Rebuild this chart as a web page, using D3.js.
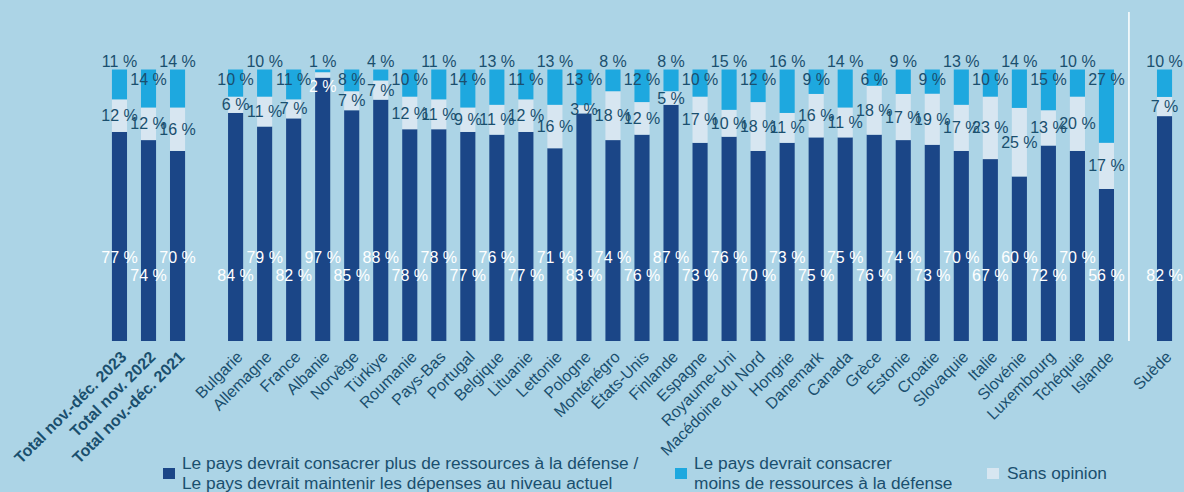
<!DOCTYPE html>
<html>
<head>
<meta charset="utf-8">
<script src="https://cdn.jsdelivr.net/npm/d3@7"></script>
<style>
  html, body { margin: 0; padding: 0; background: #acd4e6; }
  svg { display: block; font-family: "Liberation Sans", Arial, sans-serif; }
</style>
</head>
<body>
<div id="chart"></div>
<script>
var width = 1184,
    height = 492;

// categories (gap keys are the spaces between groups)
var categories = ["Total nov.-déc. 2023", "Total nov. 2022", "Total nov.-déc. 2021", "gap1",
  "Bulgarie", "Allemagne", "France", "Albanie", "Norvège", "Türkiye", "Roumanie", "Pays-Bas",
  "Portugal", "Belgique", "Lituanie", "Lettonie", "Pologne", "Monténégro", "États-Unis",
  "Finlande", "Espagne", "Royaume-Uni", "Macédoine du Nord", "Hongrie", "Danemark", "Canada",
  "Grèce", "Estonie", "Croatie", "Slovaquie", "Italie", "Slovénie", "Luxembourg", "Tchéquie",
  "Islande", "gap2", "Suède"];

// series values (null for the gaps)
var plusOuMaintenir = [77, 74, 70, null, 84, 79, 82, 97, 85, 88, 78, 78, 77, 76, 77, 71, 83, 74, 76,
  87, 73, 76, 70, 73, 75, 75, 76, 74, 73, 70, 67, 60, 72, 70, 56, null, 82];
var sansOpinion = [12, 12, 16, null, 6, 11, 7, 2, 7, 7, 12, 11, 9, 11, 12, 16, 3, 18, 12,
  5, 17, 10, 18, 11, 16, 11, 18, 17, 19, 17, 23, 25, 13, 20, 17, null, 7];
var moins = [11, 14, 14, null, 10, 10, 11, 1, 8, 4, 10, 11, 14, 13, 11, 13, 13, 8, 12,
  8, 10, 15, 12, 16, 9, 14, 6, 9, 9, 13, 10, 14, 15, 10, 27, null, 10];

var totals = ["Total nov.-déc. 2023", "Total nov. 2022", "Total nov.-déc. 2021"];
var keys = ["plus", "sans", "moins"];
var colors = { plus: "#1b4687", sans: "#d7e6f1", moins: "#1ea8df" };
var darkText = "#1a4f6e";

var legendItems = [
  { key: "plus", lines: ["Le pays devrait consacrer plus de ressources à la défense /",
                         "Le pays devrait maintenir les dépenses au niveau actuel"] },
  { key: "moins", lines: ["Le pays devrait consacrer", "moins de ressources à la défense"] },
  { key: "sans", lines: ["Sans opinion"] }
];

var data = categories.map(function(c, i) {
  return { name: c, gap: c.indexOf("gap") === 0,
    plus: plusOuMaintenir[i] || 0, sans: sansOpinion[i] || 0, moins: moins[i] || 0 };
});
// alternate label heights along real bars
var k = 0;
data.forEach(function(d) { if (!d.gap) { d.alt = k % 2; k++; } });

var svg = d3.select("#chart").append("svg")
  .attr("width", width)
  .attr("height", height);

var x = d3.scaleBand()
  .domain(categories)
  .range([98, 1186])
  .padding(0.48);

var y = d3.scaleLinear()
  .domain([0, 1])
  .range([341, 69.5]);

var bars = data.filter(function(d) { return !d.gap; });
var series = d3.stack()
  .keys(keys)
  .offset(d3.stackOffsetExpand)(bars);

// stacked bars
svg.append("g").selectAll("g")
  .data(series)
  .enter().append("g")
  .attr("fill", function(s) { return colors[s.key]; })
  .selectAll("rect")
  .data(function(s) { return s; })
  .enter().append("rect")
  .attr("x", function(d) { return x(d.data.name); })
  .attr("width", x.bandwidth())
  .attr("y", function(d) { return y(d[1]); })
  .attr("height", function(d) { return y(d[0]) - y(d[1]); });

// separator before Suède
var sepX = x("gap2") + 1;
svg.append("line")
  .attr("x1", sepX).attr("x2", sepX)
  .attr("y1", 12).attr("y2", 341)
  .attr("stroke", "#ffffff")
  .attr("stroke-width", 1.5);

var labels = svg.append("g")
  .style("font-size", "16px")
  .attr("text-anchor", "middle");

// bottom series labels (white)
labels.selectAll("text.plus")
  .data(series[0])
  .enter().append("text")
  .attr("x", function(d) { return x(d.data.name) + x.bandwidth() / 2; })
  .attr("y", function(d, i) {
    var last = i === bars.length - 1;
    return (d.data.alt || last) ? 275 : 257;
  })
  .attr("dy", "0.35em")
  .attr("fill", "#ffffff")
  .text(function(d) { return d.data.plus + " %"; });

// sans opinion labels, centred on the segment
labels.selectAll("text.sans")
  .data(series[1])
  .enter().append("text")
  .attr("x", function(d) { return x(d.data.name) + x.bandwidth() / 2; })
  .attr("y", function(d) {
    if (d.data.sans < 3) return y(d[0]) + 9;
    return (y(d[0]) + y(d[1])) / 2;
  })
  .attr("dy", "0.35em")
  .attr("fill", function(d) { return d.data.sans < 3 ? "#ffffff" : darkText; })
  .text(function(d) { return d.data.sans + " %"; });

// moins labels, at the top
labels.selectAll("text.moins")
  .data(series[2])
  .enter().append("text")
  .attr("x", function(d) { return x(d.data.name) + x.bandwidth() / 2; })
  .attr("y", function(d) { return d.data.alt ? y(1) + 9.5 : y(1) - 8; })
  .attr("dy", "0.35em")
  .attr("fill", darkText)
  .text(function(d) { return d.data.moins + " %"; });

// category labels, rotated
svg.append("g").selectAll("text")
  .data(bars)
  .enter().append("text")
  .attr("transform", function(d) {
    return "translate(" + (x(d.name) + x.bandwidth() / 2 + 4) + ",354) rotate(-45)";
  })
  .attr("text-anchor", "end")
  .attr("dy", "0.35em")
  .style("font-size", "16px")
  .style("font-weight", function(d) { return totals.indexOf(d.name) >= 0 ? "bold" : "normal"; })
  .attr("fill", darkText)
  .text(function(d) { return d.name; });

// legend
var legendX = [163, 675, 987];
var legend = svg.append("g").selectAll("g")
  .data(legendItems)
  .enter().append("g")
  .attr("transform", function(d, i) { return "translate(" + legendX[i] + ",468)"; });

legend.append("rect")
  .attr("width", 12)
  .attr("height", 11)
  .attr("fill", function(d) { return colors[d.key]; });

legend.append("text")
  .attr("x", function(d, i) { return i === 2 ? 20 : 19; })
  .attr("fill", darkText)
  .style("font-size", "17.3px")
  .selectAll("tspan")
  .data(function(d) { return d.lines.map(function(l) { return { l: l, n: d.lines.length }; }); })
  .enter().append("tspan")
  .attr("x", function() { return d3.select(this.parentNode).attr("x"); })
  .attr("y", function(t, j) { return t.n === 1 ? 11 : 1 + j * 19.5; })
  .text(function(t) { return t.l; });
</script>
</body>
</html>
